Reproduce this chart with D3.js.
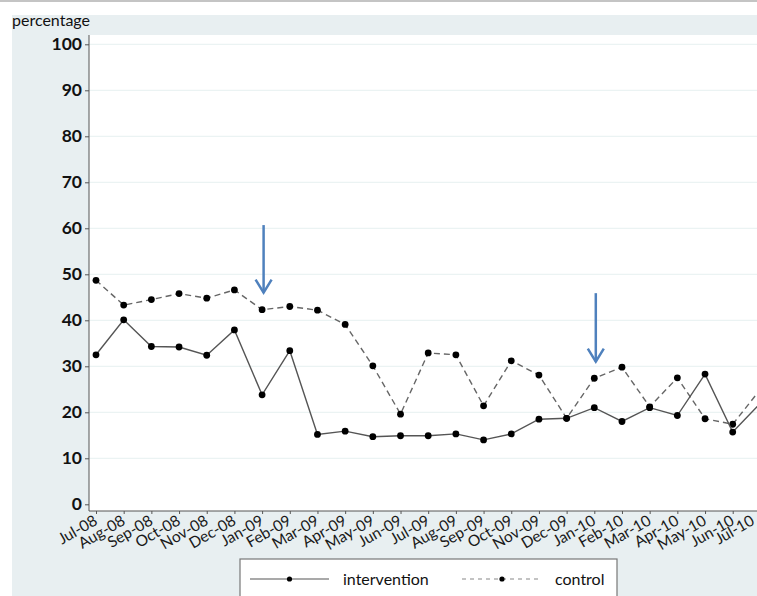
<!DOCTYPE html>
<html>
<head>
<meta charset="utf-8">
<style>
    body { margin: 0; background: #ffffff; }
    svg { display: block; font-family: Lato, "Open Sans", sans-serif; }
</style>
</head>
<body>
<div class="board"></div>
<script src="https://d3js.org/d3.v7.min.js"></script>
<script>
    // months on the x axis
    var months = ["Jul-08", "Aug-08", "Sep-08", "Oct-08", "Nov-08", "Dec-08", "Jan-09", "Feb-09",
        "Mar-09", "Apr-09", "May-09", "Jun-09", "Jul-09", "Aug-09", "Sep-09", "Oct-09", "Nov-09",
        "Dec-09", "Jan-10", "Feb-10", "Mar-10", "Apr-10", "May-10", "Jun-10", "Jul-10"]

    var intervention = [32.5, 40.1, 34.3, 34.2, 32.4, 37.9, 23.8, 33.4, 15.2, 15.9, 14.7, 14.9,
        14.9, 15.3, 14.0, 15.3, 18.5, 18.7, 21.0, 18.0, 21.0, 19.3, 28.3, 15.7, 22.0]

    var control = [48.7, 43.3, 44.5, 45.8, 44.8, 46.6, 42.3, 43.0, 42.2, 39.1, 30.1, 19.6,
        32.9, 32.5, 21.4, 31.2, 28.1, 18.7, 27.4, 29.8, 21.2, 27.5, 18.6, 17.4, 25.0]

    var yTicks = [0, 10, 20, 30, 40, 50, 60, 70, 80, 90, 100]

    // blue arrows marking the start of each period
    var arrowMonths = ["Jan-09", "Jan-10"]
    var arrowTop = [60.7, 45.9]
    var arrowTip = [46.0, 31.0]

    var W = 757, H = 596
    var BG = "#e8eff1"
    var BLUE = "#4f81bd"

    var svg = d3.select(".board").append("svg")
        .attr("width", W)
        .attr("height", H)

    // top border and light backdrop
    svg.append("line")
        .attr("x1", 0).attr("x2", W).attr("y1", 1).attr("y2", 1)
        .attr("stroke", "#c4c4c4").attr("stroke-width", 2)
    svg.append("rect")
        .attr("x", 12).attr("y", 15).attr("width", W - 12).attr("height", H - 15)
        .attr("fill", BG)

    var plotLeft = 89, plotTop = 35, axisY = 511

    svg.append("rect")
        .attr("x", plotLeft).attr("y", plotTop)
        .attr("width", W - plotLeft).attr("height", axisY - plotTop)
        .attr("fill", "white")

    var x = d3.scalePoint()
        .domain(months)
        .range([96, 760.4])

    var y = d3.scaleLinear()
        .domain([0, 100])
        .range([504.3, 44.3])

    // gridlines
    svg.append("g")
        .selectAll("line")
        .data(yTicks.filter(d => d > 0))
        .enter()
        .append("line")
        .attr("x1", plotLeft).attr("x2", W)
        .attr("y1", d => y(d)).attr("y2", d => y(d))
        .attr("stroke", "#e6f0f0").attr("stroke-width", 1)

    // y axis
    var yAxis = svg.append("g")
        .attr("transform", "translate(" + plotLeft + ",0)")
        .call(d3.axisLeft(y).tickValues(yTicks).tickSize(4).tickPadding(3))
    yAxis.select(".domain").attr("d", "M0," + plotTop + "V" + axisY).attr("stroke", "#555")
    yAxis.selectAll(".tick line").attr("stroke", "#555")
    yAxis.selectAll(".tick text")
        .attr("font-size", 17.5).attr("font-weight", "bold").attr("fill", "#111")
        .attr("font-family", "Lato, sans-serif")

    // x axis
    var xAxis = svg.append("g")
        .attr("transform", "translate(0," + axisY + ")")
        .call(d3.axisBottom(x).tickSize(3).tickFormat(""))
    xAxis.select(".domain").attr("d", "M" + plotLeft + ",0H" + W).attr("stroke", "#555")
    xAxis.selectAll(".tick line").attr("stroke", "#555")

    // rotated month labels; the last one is pulled in so it stays inside the frame
    svg.append("g")
        .selectAll("text")
        .data(months)
        .enter()
        .append("text")
        .attr("transform", d => "translate(" + Math.min(x(d) - 3, W - 7) + "," + (axisY + 3) + ") rotate(-30)")
        .attr("text-anchor", "end")
        .attr("dy", "0.72em")
        .attr("font-size", 15.5)
        .attr("fill", "#1a1a1a")
        .text(d => d)

    svg.append("text")
        .attr("x", 12).attr("y", 26)
        .attr("font-size", 16)
        .attr("fill", "#111")
        .text("percentage")

    var line = d3.line()
        .x((d, i) => x(months[i]))
        .y(d => y(d))

    function appendSeries(values, dash, color) {
        var g = svg.append("g")
        g.append("path")
            .datum(values)
            .attr("fill", "none")
            .attr("stroke", color)
            .attr("stroke-width", 1.4)
            .attr("stroke-dasharray", dash)
            .attr("d", line)
        g.selectAll("circle")
            .data(values)
            .enter()
            .append("circle")
            .attr("cx", (d, i) => x(months[i]))
            .attr("cy", d => y(d))
            .attr("r", 3.4)
            .attr("fill", "black")
    }

    appendSeries(control, "6,4", "#666")
    appendSeries(intervention, null, "#555")

    // arrows
    var arrows = svg.append("g")
    arrowMonths.forEach((m, i) => {
        var ax = x(m) + 1.5
        arrows.append("line")
            .attr("x1", ax).attr("x2", ax)
            .attr("y1", y(arrowTop[i])).attr("y2", y(arrowTip[i]))
            .attr("stroke", BLUE).attr("stroke-width", 2.5)
        arrows.append("path")
            .attr("d", "M" + (ax - 8) + "," + (y(arrowTip[i]) - 13) + "L" + ax + "," + y(arrowTip[i]) +
                "L" + (ax + 8) + "," + (y(arrowTip[i]) - 13))
            .attr("fill", "none")
            .attr("stroke", BLUE).attr("stroke-width", 2.5)
    })

    // legend
    var legend = svg.append("g")
    legend.append("rect")
        .attr("x", 240).attr("y", 559).attr("width", 377).attr("height", 60)
        .attr("fill", "white").attr("stroke", "#777").attr("stroke-width", 1.2)

    var legendItems = [
        { name: "intervention", dash: null, color: "#555", x0: 250, x1: 329, tx: 343 },
        { name: "control", dash: "4,4", color: "#888", x0: 462, x1: 542, tx: 555 }
    ]
    legendItems.forEach(d => {
        legend.append("line")
            .attr("x1", d.x0).attr("x2", d.x1).attr("y1", 579).attr("y2", 579)
            .attr("stroke", d.color).attr("stroke-width", 1.2)
            .attr("stroke-dasharray", d.dash)
        legend.append("circle")
            .attr("cx", (d.x0 + d.x1) / 2).attr("cy", 579).attr("r", 2.6)
            .attr("fill", "black")
        legend.append("text")
            .attr("x", d.tx).attr("y", 585)
            .attr("font-size", 16)
            .attr("fill", "#111")
            .text(d.name)
    })
</script>
</body>
</html>
